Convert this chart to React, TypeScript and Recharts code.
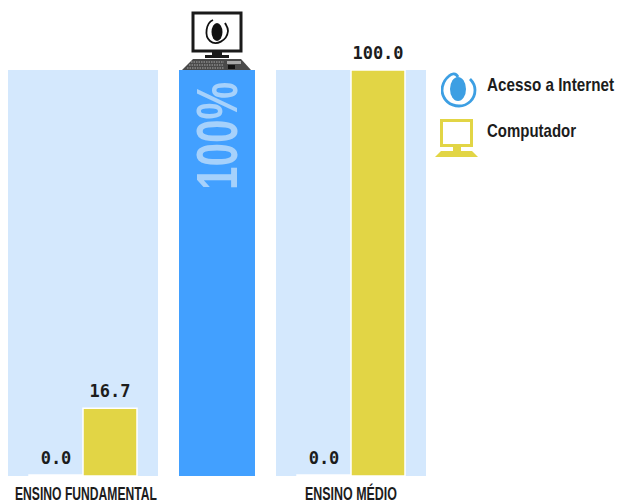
import { BarChart, Bar, XAxis, YAxis, CartesianGrid, LabelList } from "recharts";

const categories = ["ENSINO FUNDAMENTAL", "ENSINO MÉDIO"];
const acessoInternet = [0.0, 0.0];
const computador = [16.7, 100.0];
const totalLabel = "100%";
const totalValue = [100];
const legendLabels = ["Acesso a Internet", "Computador"];

const PANEL = "#d4e8fd";
const BLUE = "#42a0ff";
const YELLOW = "#e2d545";
const INK = "#1c1c1c";
const SANS = "'Liberation Sans', sans-serif";
const MONO = "'DejaVu Sans Mono', monospace";

const CHART_TOP = 40;
const CHART_H = 463;
const PLOT_MARGIN = { top: 30, right: 0, bottom: 0, left: 0 };

// the original face is condensed, none is installed, so the text gets squeezed to these widths
const textWidths: Record<string, number> = {
  "ENSINO FUNDAMENTAL": 142,
  "ENSINO MÉDIO": 92,
  "Acesso a Internet": 127,
  Computador: 89,
};

function ValueLabel(props: any) {
  const { x, y, width, value } = props;
  return (
    <text
      x={x + width / 2}
      y={y - 11}
      textAnchor="middle"
      fontFamily={MONO}
      fontWeight="bold"
      fontSize={17}
      fill={INK}
    >
      {Number(value).toFixed(1)}
    </text>
  );
}

function CategoryTick(props: any) {
  const { x, payload, shift } = props;
  return (
    <text
      x={x + shift}
      y={500}
      dy={-CHART_TOP}
      textAnchor="middle"
      fontFamily={SANS}
      fontWeight="bold"
      fontSize={17.5}
      fill={INK}
      textLength={textWidths[payload.value]}
      lengthAdjust="spacingAndGlyphs"
    >
      {payload.value}
    </text>
  );
}

function GroupChart({ index, left, shift }: { index: number; left: number; shift: number }) {
  const row = [
    { name: categories[index], acesso: acessoInternet[index], computador: computador[index] },
  ];
  return (
    <div style={{ position: "absolute", left, top: CHART_TOP }}>
      <BarChart width={150} height={CHART_H} data={row} margin={PLOT_MARGIN} barSize={54} barGap={0}>
        <CartesianGrid horizontal={false} vertical={false} fill={PANEL} />
        <XAxis
          dataKey="name"
          height={27}
          interval={0}
          axisLine={false}
          tickLine={false}
          tick={(p: any) => <CategoryTick {...p} shift={shift} />}
        />
        <YAxis hide domain={[0, 100]} />
        <Bar dataKey="acesso" fill="#ffffff" stroke="#ffffff" strokeWidth={1.5} minPointSize={1} isAnimationActive={false}>
          <LabelList dataKey="acesso" content={ValueLabel} />
        </Bar>
        <Bar dataKey="computador" fill={YELLOW} stroke="#ffffff" strokeWidth={1.5} isAnimationActive={false}>
          <LabelList dataKey="computador" content={ValueLabel} />
        </Bar>
      </BarChart>
    </div>
  );
}

function TotalLabel(props: any) {
  const { x, y, width } = props;
  const cx = x + width / 2;
  const cy = y + 66;
  return (
    <text
      x={cx}
      y={cy}
      transform={`rotate(-90 ${cx} ${cy})`}
      textAnchor="middle"
      dominantBaseline="central"
      fontFamily={SANS}
      fontWeight="bold"
      fontSize={57}
      fill="#a6d1fb"
      textLength={108}
      lengthAdjust="spacingAndGlyphs"
    >
      {totalLabel}
    </text>
  );
}

function TotalChart() {
  const row = totalValue.map((v) => ({ name: "total", value: v }));
  return (
    <div style={{ position: "absolute", left: 179, top: CHART_TOP }}>
      <BarChart
        width={76}
        height={CHART_H}
        data={row}
        margin={{ ...PLOT_MARGIN, bottom: 27 }}
        barCategoryGap={0}
      >
        <XAxis dataKey="name" hide />
        <YAxis hide domain={[0, 100]} />
        <Bar dataKey="value" fill={BLUE} isAnimationActive={false}>
          <LabelList dataKey="value" content={TotalLabel} />
        </Bar>
      </BarChart>
    </div>
  );
}

function DesktopIcon() {
  return (
    <svg width={72} height={60} viewBox="0 0 72 60" style={{ position: "absolute", left: 181, top: 11 }}>
      <rect x={12} y={2} width={48} height={38} fill="#fff" stroke="#1a1a1a" strokeWidth={3} />
      <rect x={31} y={40} width={10} height={7} fill="#1a1a1a" />
      <rect x={24} y={44} width={24} height={3} fill="#1a1a1a" />
      <path d="M12 48 H60 L70 59 H1 Z" fill="#4a4a4a" />
      <path d="M10 51 H43 M8 54 H43 M6 57 H43" stroke="#a8a8a8" strokeWidth={1} strokeDasharray="1.5 1" />
      <rect x={46} y={50} width={14} height={3} fill="#a8a8a8" />
      <rect x={47} y={54} width={7} height={4} fill="#111" />
      <ellipse cx={36} cy={21} rx={5.5} ry={9} fill="#111" />
      <path d="M32 9 C25 12 23 25 29 30 C35 35 46 30 47 20 C47 16 45 14 44 12" fill="none" stroke="#111" strokeWidth={1.8} />
    </svg>
  );
}

function MouseIcon() {
  return (
    <svg width={36} height={36} viewBox="0 0 36 36" style={{ display: "block" }}>
      <ellipse cx={17} cy={17} rx={8} ry={12} fill="#3d9fe3" />
      <path
        d="M17 5 C15 1 11 1 8 4 C3 8 1 13 1 19 C2 28 9 34 18 34 C27 34 34 27 34 18 C34 14 32 10 29 7"
        fill="none"
        stroke="#3d9fe3"
        strokeWidth={2.8}
      />
    </svg>
  );
}

function MonitorIcon() {
  return (
    <svg width={46} height={40} viewBox="0 0 46 40" style={{ display: "block" }}>
      <rect x={6.5} y={2.5} width={30} height={25} fill="#fff" stroke={YELLOW} strokeWidth={3} />
      <rect x={18} y={29} width={8} height={4} fill={YELLOW} />
      <path d="M6 33 H37 L43 39 H0 Z" fill={YELLOW} />
    </svg>
  );
}

function ChartLegend() {
  const icons = [<MouseIcon key="mouse" />, <MonitorIcon key="monitor" />];
  const iconBoxes = [
    { left: 441, top: 72 },
    { left: 435, top: 118 },
  ];
  const baselines = [91, 137];
  return (
    <>
      {legendLabels.map((label, i) => (
        <div key={label} style={{ position: "absolute", ...iconBoxes[i] }}>
          {icons[i]}
        </div>
      ))}
      <svg width={140} height={80} style={{ position: "absolute", left: 479, top: 70 }}>
        {legendLabels.map((label, i) => (
          <text
            key={label}
            x={8}
            y={baselines[i] - 70}
            fontFamily={SANS}
            fontWeight="bold"
            fontSize={19}
            fill={INK}
            textLength={textWidths[label]}
            lengthAdjust="spacingAndGlyphs"
          >
            {label}
          </text>
        ))}
      </svg>
    </>
  );
}

export default function App() {
  return (
    <div style={{ position: "absolute", left: 0, top: 0, width: 619, height: 503, background: "#fff", overflow: "hidden" }}>
      <GroupChart index={0} left={8} shift={3} />
      <TotalChart />
      <GroupChart index={1} left={276} shift={0} />
      <DesktopIcon />
      <ChartLegend />
    </div>
  );
}
